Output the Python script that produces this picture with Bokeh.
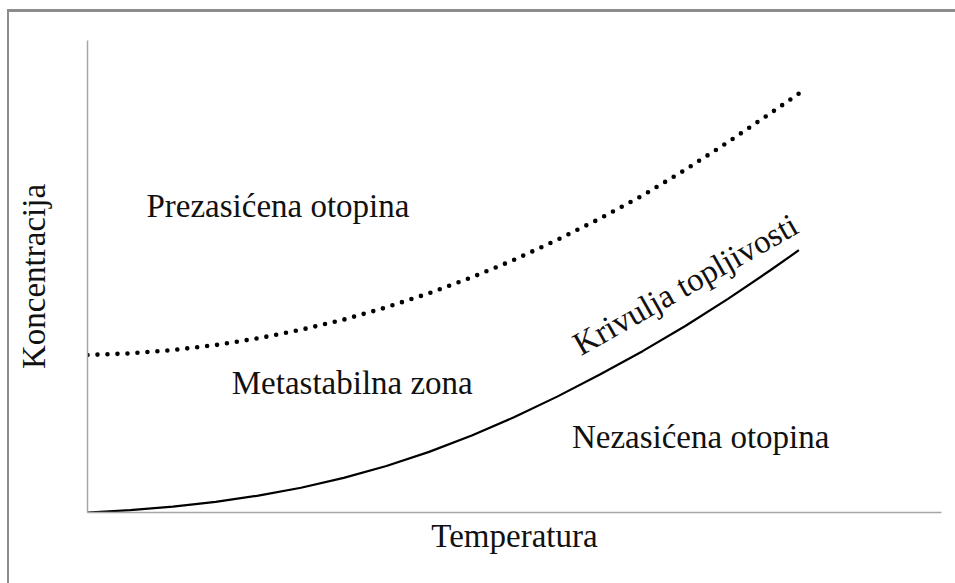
from bokeh.plotting import figure
from bokeh.layouts import column
from bokeh.models import Range1d, FixedTicker, ColumnDataSource
from bokeh.core.properties import value
from bokeh.embed import file_html
from bokeh.resources import INLINE

# Temperature (arbitrary units, 0..100 along the axis)
temperatura = [0, 5, 10, 15, 20, 25, 30, 35, 40, 45, 50, 55, 60, 65, 70, 75, 80, 83.3]
# Solubility curve (Krivulja topljivosti), concentration units 0..100
topljivost = [0.0, 0.5, 1.25, 2.25, 3.57, 5.25, 7.33, 9.86, 12.84, 16.30,
              20.22, 24.55, 29.22, 34.18, 39.52, 45.27, 51.37, 55.57]
# Supersaturation limit (dotted), concentration units 0..100
prezasicenje = [33.37, 33.72, 34.42, 35.47, 36.92, 38.72, 40.87, 43.47, 46.47, 49.82,
                53.57, 57.77, 62.27, 67.17, 72.62, 78.47, 84.62, 88.77]

zone_labels = ["Prezasićena otopina", "Metastabilna zona", "Nezasićena otopina"]
zone_x = [22.3, 31.0, 71.8]
zone_y = [64.9, 27.4, 15.9]

curve_label = ["Krivulja topljivosti"]
curve_label_x = [70.0]
curve_label_y = [48.3]
curve_label_angle = [0.515]

x_label = "Temperatura"
y_label = "Koncentracija"

FONT = "Liberation Serif"
TEXT_COLOR = "#111111"

p = figure(width=946, height=571,
           x_range=Range1d(0, 100), y_range=Range1d(0, 100),
           output_backend="svg", toolbar_location=None,
           min_border_left=78, min_border_right=14,
           min_border_top=28, min_border_bottom=71)
p.outline_line_color = None
p.xgrid.visible = False
p.ygrid.visible = False
p.background_fill_color = "white"
p.border_fill_color = "white"

for ax in (p.xaxis[0], p.yaxis[0]):
    ax.ticker = FixedTicker(ticks=[])
    ax.major_tick_line_color = None
    ax.minor_tick_line_color = None
    ax.major_tick_out = 0
    ax.major_tick_in = 0
    ax.major_label_text_font_size = "0px"
    ax.axis_line_color = "#a6a6a6"
    ax.axis_line_width = 1.5
    ax.axis_label_text_font = FONT
    ax.axis_label_text_font_style = "normal"
    ax.axis_label_text_font_size = "33px"
    ax.axis_label_text_color = TEXT_COLOR

p.xaxis[0].axis_label = x_label
p.xaxis[0].axis_label_standoff = 5
p.yaxis[0].axis_label = y_label
p.yaxis[0].axis_label_standoff = 36

curves = ColumnDataSource(dict(t=temperatura, sol=topljivost, sup=prezasicenje))
p.line("t", "sol", source=curves, line_color="black", line_width=2.2,
       line_join="round")
p.line("t", "sup", source=curves, line_color="black", line_width=4.6,
       line_dash="0 10", line_cap="round", line_join="round")

zones = ColumnDataSource(dict(x=zone_x, y=zone_y, text=zone_labels))
p.text("x", "y", text="text", source=zones, text_font=value(FONT),
       text_font_size="33px", text_color=TEXT_COLOR,
       text_align="center", text_baseline="alphabetic")

cl = ColumnDataSource(dict(x=curve_label_x, y=curve_label_y, text=curve_label,
                           angle=curve_label_angle))
p.text("x", "y", text="text", angle="angle", source=cl, text_font=value(FONT),
       text_font_size="33px", text_color=TEXT_COLOR,
       text_align="center", text_baseline="alphabetic")

page = column(p, styles={"border-top": "3px solid #8c8c8c",
                         "border-left": "2px solid #8c8c8c",
                         "margin-top": "9px", "margin-left": "7px"})

open("out.html", "w").write(file_html(page, INLINE))
